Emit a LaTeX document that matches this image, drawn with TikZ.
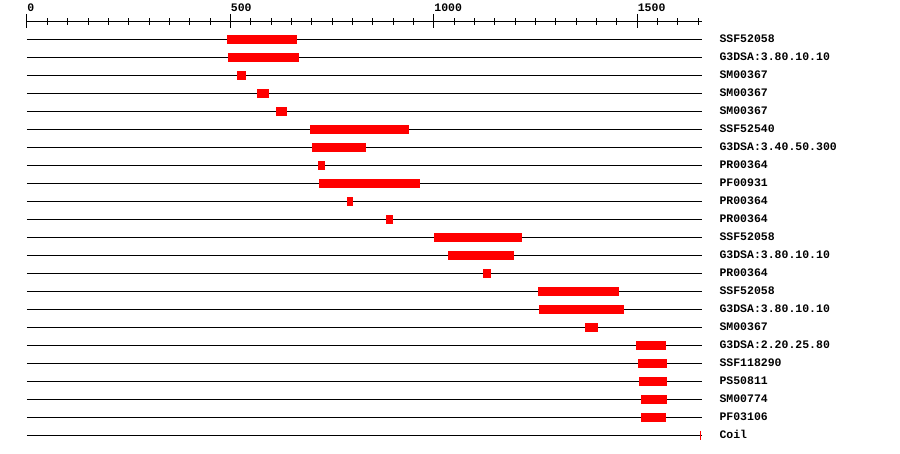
\documentclass[tikz,border=0pt]{standalone}
\usepackage{fontspec}
\newfontfamily\lblfont{Liberation Mono}
\usetikzlibrary{calc}
\tikzset{lbl/.style={anchor=base west,inner sep=0pt,font=\lblfont\fontsize{11.5}{12}\selectfont\bfseries}}
\begin{document}
\begin{tikzpicture}[x=0.40687pt,y=-1pt,line width=1pt]
\useasboundingbox (-66.36,0) rectangle (2145.65,454);
\coordinate (R0) at (0,21.7); \coordinate (R1) at (1658,21.7);
\draw (R0)--(R1);
\foreach \t in {0,50,...,1650}{\draw (\t,18.5)--(\t,25);}
\foreach \t in {0,500,1000,1500}{\draw (\t,14)--(\t,28.5); \node[lbl] (tick\t) at (\t,11.5) {\t};}
\foreach \n/\a/\b [count=\i from 0] in {SSF52058/492/664,G3DSA:3.80.10.10/494/668,SM00367/516/538,SM00367/565/595,SM00367/612/639,SSF52540/696/939,G3DSA:3.40.50.300/700/833,PR00364/715/732,PF00931/718/966,PR00364/786/801,PR00364/882/900,SSF52058/1000/1217,G3DSA:3.80.10.10/1035/1197,PR00364/1121/1140,SSF52058/1256/1455,G3DSA:3.80.10.10/1258/1467,SM00367/1371/1403,G3DSA:2.20.25.80/1497/1570,SSF118290/1502/1573,PS50811/1504/1573,SM00774/1509/1573,PF03106/1509/1570}{
\pgfmathsetmacro\y{39.5+18*\i}
\draw (0,\y)--(1658,\y);
\fill[red] (\a,\y-4.6) rectangle (\b,\y+4.6);
\node[lbl] (lab\i) at (1700.8,\y+3.1) {\n};}
\draw (0,435.5)--(1658,435.5);
\draw[red] (1655,431)--(1655,440);
\node[lbl] (lab22) at (1700.8,438.6) {Coil};
\end{tikzpicture}
\end{document}
